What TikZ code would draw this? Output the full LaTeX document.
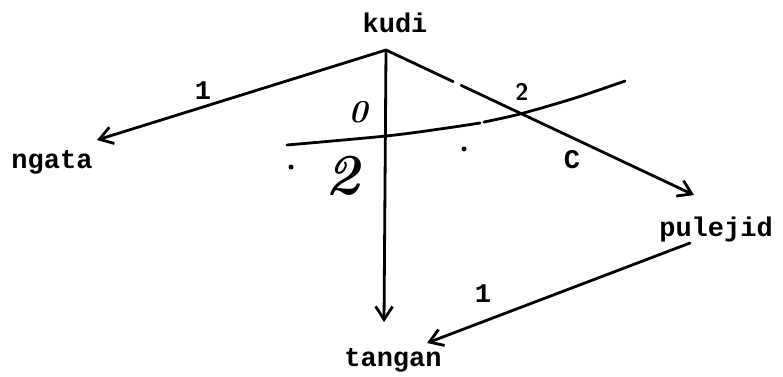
\documentclass[tikz,border=0pt]{standalone}
\usepackage{fontspec}
\setmonofont{Liberation Mono}
\usetikzlibrary{arrows.meta,calc}
\tikzset{
  word/.style={font=\ttfamily\bfseries\fontsize{27}{27}\selectfont, inner sep=0pt},
  lbl/.style={font=\ttfamily\bfseries\fontsize{27}{27}\selectfont, inner sep=0pt},
  hand/.style={font=\itshape\bfseries\fontsize{32}{32}\selectfont, inner sep=0pt},
  ln/.style={line width=2.8pt, line cap=round, line join=round},
  arr/.style={ln, -{Straight Barb[length=13pt,width=17pt,line width=2.8pt]}},
  dotmark/.style={fill=black, circle, inner sep=0pt, minimum size=5pt}
}
\begin{document}
\begin{tikzpicture}[x=1pt,y=-1pt]
\useasboundingbox (0,0) rectangle (783,376);
% words
\node[word] (kudi) at (395,23) {kudi};
\node[word] (ngata) at (52,162) {ngata};
\node[word] (pulejid) at (716,230) {pulejid};
\node[word] (tangan) at (393,360) {tangan};
% connector points
\coordinate (apex) at (386,50);
\coordinate (tipN) at (97,140);
\coordinate (tipP) at (694,195);
\coordinate (startP) at (690,243);
\coordinate (tipT) at (427,343);
\coordinate (tipV) at (384,322);
% arrows
\draw[arr] (apex) -- (tipN);
\draw[arr] (apex) -- (tipV);
\draw[ln] (apex) -- ($(apex)!0.218!(tipP)$);
\draw[arr] ($(apex)!0.244!(tipP)$) -- (tipP);
\draw[arr] (startP) -- (tipT);
% crossing curve
\draw[ln] plot[smooth] coordinates {(287,145) (386,136) (440,129) (480,123)};
\draw[ln] plot[smooth] coordinates {(484,122) (520,114) (575,98) (625,81)};
% dots
\node[dotmark] (d1) at (291,167) {};
\node[dotmark] (d2) at (464,149) {};
% labels
\node[lbl] (l1) at (203,91) {1};
\node[lbl] (l2) at (483,294) {1};
\node[lbl] (lc) at (572,160) {C};
\node[hand] (l0) at (358,112) {0};
\node[font=\sffamily\bfseries\fontsize{24}{24}\selectfont, inner sep=0pt] (lz) at (522,92) {2};
\node[font=\itshape\bfseries\fontsize{58}{58}\selectfont, inner sep=0pt] (lb) at (343,176) {2};
\end{tikzpicture}
\end{document}
